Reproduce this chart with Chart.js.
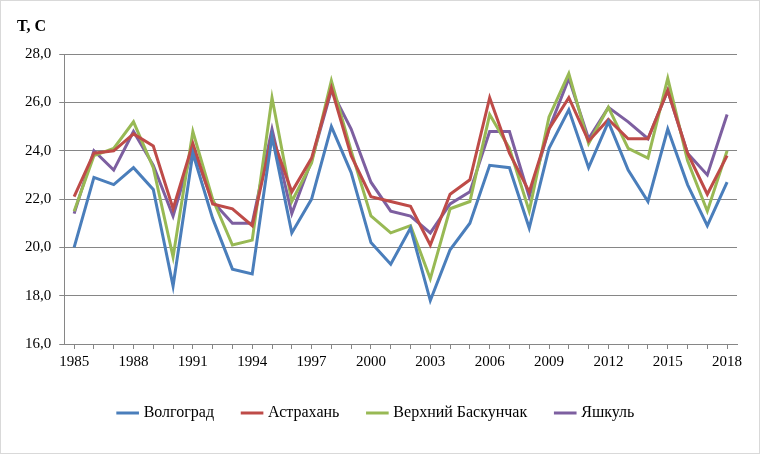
<!DOCTYPE html>
<html>
<head>
<meta charset="utf-8">
<script src="https://cdn.jsdelivr.net/npm/chart.js@4"></script>
<style>
  body { margin: 0; background: #fff; }
  .wrap { width: 758px; height: 452px; border: 1px solid #d9d9d9; }
</style>
</head>
<body>
<div class="wrap"><canvas id="c" width="758" height="452"></canvas></div>
<script>
const years = [];
for (let y = 1985; y <= 2018; y++) years.push(String(y));

const volgograd = [20.0, 22.9, 22.6, 23.3, 22.4, 18.4, 23.9, 21.2, 19.1, 18.9, 24.6, 20.6, 22.0, 25.0, 23.1, 20.2, 19.3, 20.8, 17.8, 19.9, 21.0, 23.4, 23.3, 20.8, 24.1, 25.7, 23.3, 25.2, 23.2, 21.9, 24.9, 22.6, 20.9, 22.7];
const astrakhan = [22.1, 23.9, 24.0, 24.7, 24.2, 21.6, 24.3, 21.8, 21.6, 20.9, 24.6, 22.3, 23.7, 26.6, 23.8, 22.1, 21.9, 21.7, 20.1, 22.2, 22.8, 26.2, 23.9, 22.3, 24.9, 26.2, 24.4, 25.3, 24.5, 24.5, 26.5, 23.9, 22.2, 23.8];
const baskunchak = [21.5, 23.8, 24.1, 25.2, 23.3, 19.6, 24.8, 22.0, 20.1, 20.3, 26.2, 21.9, 23.5, 26.9, 24.0, 21.3, 20.6, 20.9, 18.7, 21.6, 21.9, 25.5, 24.1, 21.5, 25.4, 27.2, 24.3, 25.8, 24.1, 23.7, 27.0, 23.6, 21.5, 24.0];
const yashkul = [21.4, 24.0, 23.2, 24.8, 23.4, 21.3, 24.1, 21.9, 21.0, 21.0, 24.9, 21.4, 23.6, 26.5, 24.9, 22.7, 21.5, 21.3, 20.6, 21.8, 22.3, 24.8, 24.8, 22.1, 24.9, 27.0, 24.5, 25.8, 25.2, 24.5, 26.5, 23.9, 23.0, 25.5];

const serif = "'Liberation Serif', 'Times New Roman', serif";

function line(label, data, color) {
  return { label, data, borderColor: color, backgroundColor: color, borderWidth: 3, pointRadius: 0, tension: 0 };
}

new Chart(document.getElementById("c"), {
  type: "line",
  data: {
    labels: years,
    datasets: [
      line("Волгоград", volgograd, "#4a7ebb"),
      line("Астрахань", astrakhan, "#be4b48"),
      line("Верхний Баскунчак", baskunchak, "#98b954"),
      line("Яшкуль", yashkul, "#7d5fa0")
    ]
  },
  options: {
    responsive: false,
    animation: false,
    layout: { padding: { left: 16, right: 22, top: 4, bottom: 22 } },
    plugins: {
      title: {
        display: true, text: "T, C", align: "start",
        font: { family: serif, size: 16, weight: "bold" }, color: "#000",
        padding: { top: 12, bottom: 18 }
      },
      legend: {
        position: "bottom",
        labels: {
          usePointStyle: true, pointStyle: "line", boxWidth: 44,
          font: { family: serif, size: 16 }, color: "#000", padding: 30
        }
      }
    },
    scales: {
      x: {
        offset: true,
        grid: { display: true, drawOnChartArea: false, tickLength: 5, color: "#868686", offset: false },
        border: { color: "#868686" },
        ticks: {
          autoSkip: false, maxRotation: 0, color: "#000", padding: 4,
          font: { family: serif, size: 15 },
          callback: (v, i) => (i % 3 === 0 ? years[i] : "")
        }
      },
      y: {
        min: 16, max: 28,
        grid: { color: "#868686", tickLength: 5 },
        border: { color: "#868686" },
        ticks: {
          stepSize: 2, color: "#000", padding: 8,
          font: { family: serif, size: 15 },
          callback: (v) => v.toFixed(1).replace(".", ",")
        }
      }
    }
  }
});
</script>
</body>
</html>
